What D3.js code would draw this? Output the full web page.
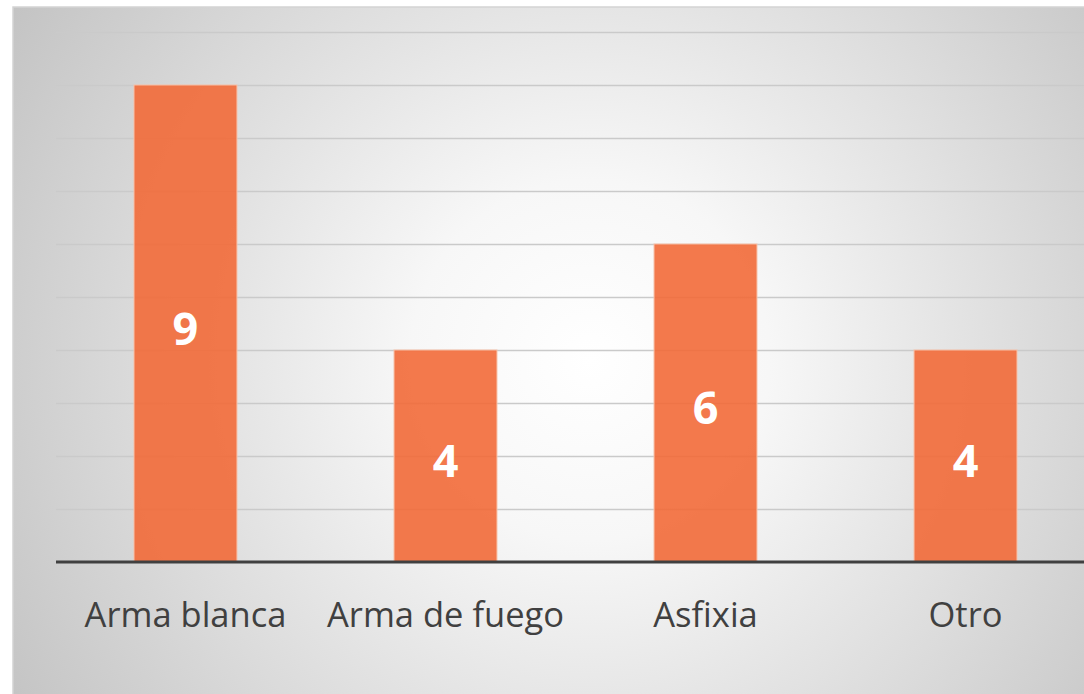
<!DOCTYPE html>
<html>
<head>
<meta charset="utf-8">
<script src="https://cdn.jsdelivr.net/npm/d3@7"></script>
<style>
  body { margin: 0; background: #fff; overflow: hidden; }
  svg { display: block; }
  text { font-variant-ligatures: none; }
</style>
</head>
<body>
<script>
(function(){

    //chart data
    var categories = ["Arma blanca", "Arma de fuego", "Asfixia", "Otro"];
    var values = [9, 4, 6, 4];
    var yTicks = [1, 2, 3, 4, 5, 6, 7, 8, 9, 10];

    //frame dimensions
    var width = 1084,
        height = 694,
        frameLeft = 13,
        frameTop = 7,
        plotLeft = 56,
        plotTop = 32,
        plotBottom = 562;

    var svg = d3.select("body")
        .append("svg")
        .attr("width", width)
        .attr("height", height);

    //radial background like the office chart area
    var defs = svg.append("defs");
    var grad = defs.append("radialGradient")
        .attr("id", "bg")
        .attr("gradientUnits", "userSpaceOnUse")
        .attr("cx", 590)
        .attr("cy", 360)
        .attr("r", 720);
    grad.append("stop").attr("offset", "0").attr("stop-color", "#ffffff");
    grad.append("stop").attr("offset", "0.25").attr("stop-color", "#f7f7f7");
    grad.append("stop").attr("offset", "1").attr("stop-color", "#bfbfbf");

    svg.append("rect")
        .attr("x", frameLeft)
        .attr("y", frameTop)
        .attr("width", width - frameLeft + 5)
        .attr("height", height - frameTop + 5)
        .attr("fill", "url(#bg)")
        .attr("stroke", "#d4d4d4")
        .attr("stroke-width", 1.5);

    //scales
    var x = d3.scaleBand()
        .domain(categories)
        .range([plotLeft, plotLeft + 1039])
        .paddingInner(0.604)
        .paddingOuter(0.3);

    var y = d3.scaleLinear()
        .domain([0, 10])
        .range([plotBottom, plotTop]);

    //horizontal gridlines
    var grid = svg.append("g")
        .attr("class", "grid")
        .attr("transform", "translate(" + plotLeft + ",0)")
        .call(d3.axisLeft(y)
            .tickValues(yTicks)
            .tickSize(-(width - plotLeft + 10))
            .tickFormat(""));
    grid.select(".domain").remove();
    grid.selectAll(".tick line")
        .attr("stroke", "#cacaca")
        .attr("stroke-width", 1.5);

    //bars
    svg.selectAll(".bar")
        .data(values)
        .enter()
        .append("rect")
        .attr("class", "bar")
        .attr("x", function(d, i){ return x(categories[i]); })
        .attr("width", x.bandwidth())
        .attr("y", function(d){ return y(d); })
        .attr("height", function(d){ return plotBottom - y(d); })
        .attr("fill", "#f26a38")
        .attr("fill-opacity", 0.9)
        .attr("stroke", "#f7c2aa")
        .attr("stroke-width", 1);

    //value labels in the middle of each bar
    svg.selectAll(".val")
        .data(values)
        .enter()
        .append("text")
        .attr("class", "val")
        .attr("x", function(d, i){ return x(categories[i]) + x.bandwidth() / 2; })
        .attr("y", function(d){ return (y(d) + plotBottom) / 2 + 9; })
        .attr("text-anchor", "middle")
        .attr("dominant-baseline", "middle")
        .attr("font-family", "'Open Sans', sans-serif")
        .attr("font-weight", "bold")
        .attr("font-size", 45)
        .attr("fill", "#ffffff")
        .text(function(d){ return d; });

    //category axis
    var xAxis = svg.append("g")
        .attr("transform", "translate(0," + plotBottom + ")")
        .call(d3.axisBottom(x).tickSize(0).tickPadding(0));
    xAxis.select(".domain").remove();
    xAxis.selectAll("text")
        .attr("y", 65)
        .attr("dy", 0)
        .attr("font-family", "'Open Sans', sans-serif")
        .attr("font-size", 34.5)
        .attr("fill", "#404040");

    //baseline
    svg.append("line")
        .attr("x1", plotLeft)
        .attr("x2", width)
        .attr("y1", y(0))
        .attr("y2", y(0))
        .attr("stroke", "#404040")
        .attr("stroke-width", 3);
})();
</script>
</body>
</html>
